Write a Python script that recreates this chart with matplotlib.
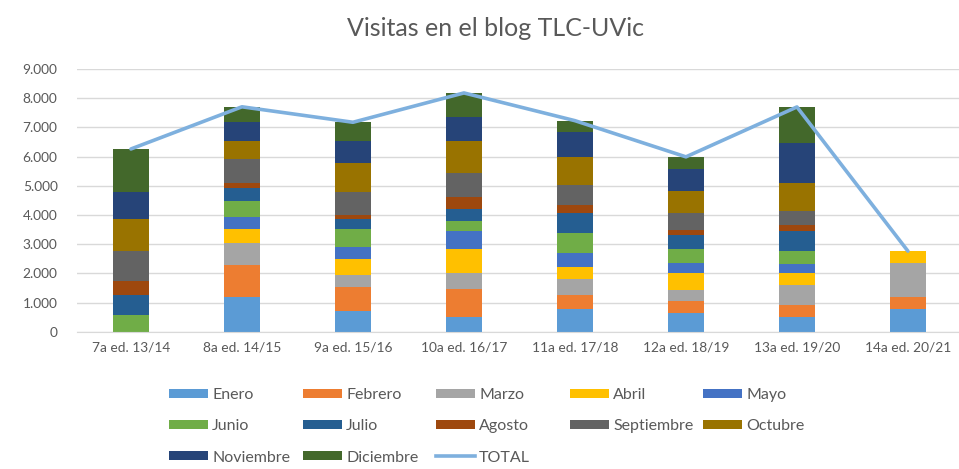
import matplotlib
matplotlib.use("Agg")
import matplotlib.pyplot as plt
import numpy as np
from matplotlib.patches import Patch
from matplotlib.lines import Line2D

plt.rcParams['font.family'] = ['Lato', 'DejaVu Sans']

categories = ["7a ed. 13/14", "8a ed. 14/15", "9a ed. 15/16", "10a ed. 16/17",
              "11a ed. 17/18", "12a ed. 18/19", "13a ed. 19/20", "14a ed. 20/21"]
months = ["Enero", "Febrero", "Marzo", "Abril", "Mayo", "Junio", "Julio",
          "Agosto", "Septiembre", "Octubre", "Noviembre", "Diciembre"]

enero      = [0,    1190, 710, 490, 775, 630, 490, 775]
febrero    = [0,    1095, 810, 960, 470, 420, 420, 410]
marzo      = [0,    740,  420, 560, 560, 390, 675, 1165]
abril      = [0,    490,  550, 820, 410, 560, 410, 410]
mayo       = [0,    400,  400, 615, 480, 340, 340, 0]
junio      = [570,  570,  630, 355, 685, 500, 435, 0]
julio      = [685,  455,  340, 400, 695, 470, 685, 0]
agosto     = [490,  170,  150, 420, 275, 160, 215, 0]
septiembre = [1015, 800,  790, 820, 685, 605, 455, 0]
octubre    = [1095, 630,  995, 1095, 960, 755, 970, 0]
noviembre  = [945,  630,  740, 810, 835, 740, 1360, 0]
diciembre  = [1460, 535,  640, 835, 400, 420, 1245, 0]

series = [enero, febrero, marzo, abril, mayo, junio, julio, agosto,
          septiembre, octubre, noviembre, diciembre]
colors = ["#5B9BD5", "#ED7D31", "#A5A5A5", "#FFC000", "#4472C4", "#70AD47",
          "#255E91", "#9E480E", "#636363", "#997300", "#264478", "#43682B"]
total_color = "#7EB0DE"

W, H = 959, 469
fig = plt.figure(figsize=(W / 100, H / 100), dpi=100)
ax = fig.add_axes([77 / W, 1 - 331.7 / H, (959 - 77) / W, (331.7 - 69) / H])

x = np.arange(len(categories))
bottom = np.zeros(len(categories))
for vals, c, m in zip(series, colors, months):
    v = np.array(vals, dtype=float)
    ax.bar(x, v, bottom=bottom, width=0.325, color=c, label=m, zorder=2)
    bottom += v
ax.plot(x, bottom, color=total_color, lw=2.6, zorder=3, solid_capstyle='round')

ax.set_xlim(-0.486, 7.46)
ax.set_ylim(0, 9000)
ax.set_yticks(np.arange(0, 9001, 1000))
ax.set_yticklabels([f"{v:,}".replace(",", ".") for v in range(0, 9001, 1000)])
ax.set_xticks(x)
ax.set_xticklabels(categories)
ax.tick_params(axis='both', length=0, labelsize=9.9, colors="#595959")
ax.tick_params(axis='y', pad=14)
ax.tick_params(axis='x', pad=7)
ax.grid(axis='y', color="#D9D9D9", lw=1, zorder=0)
for s in ['top', 'right', 'left']:
    ax.spines[s].set_visible(False)
ax.spines['bottom'].set_color("#D9D9D9")
ax.set_axisbelow(True)

fig.text(495 / W, 1 - 28 / H, "Visitas en el blog TLC-UVic", ha='center', va='center',
         fontsize=18, color="#595959")

handles = [Patch(facecolor=c, edgecolor='none') for c in colors]
handles.append(Line2D([0], [0], color=total_color, lw=2.6))
labels = months + ["TOTAL"]
col_x = [169, 303, 436, 570, 703]
for j in range(5):
    hs = handles[j::5]
    ls = labels[j::5]
    leg = fig.legend(hs, ls, loc='upper left', bbox_to_anchor=(col_x[j] / W, 1 - 388 / H),
                     frameon=False, fontsize=11.5, handlelength=2.45, handleheight=0.5,
                     handletextpad=0.25, labelspacing=1.08, borderpad=0, borderaxespad=0)
    for t in leg.get_texts():
        t.set_color("#595959")

fig.savefig("out.png", dpi=100)
